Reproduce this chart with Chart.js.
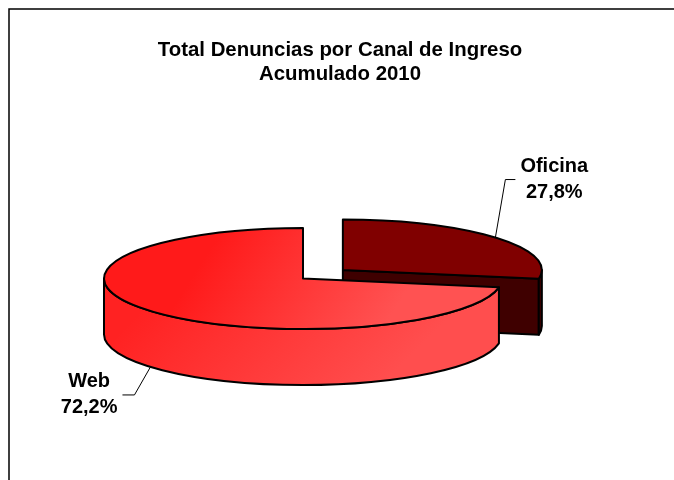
<!DOCTYPE html>
<html>
<head>
<meta charset="utf-8">
<script src="https://cdn.jsdelivr.net/npm/chart.js@4.4.1/dist/chart.umd.min.js"></script>
<style>
  html, body { margin: 0; padding: 0; background: #fff; }
</style>
</head>
<body>
<canvas id="pieChart" width="674" height="480"></canvas>
<script>
var categories = ['Oficina', 'Web'];
var shares = [27.8, 72.2];
var titleLines = ['Total Denuncias por Canal de Ingreso', 'Acumulado 2010'];

var FONT = '"Liberation Sans", Arial, sans-serif';

// colours per slice: top face and side walls (Web uses a red gradient)
var topColors = ['#800000', ['#FF1A1A', '#FF5252']];
var sideColors = ['#3F0000', ['#FF2222', '#FF4E4E']];
// leader line layout per label: elbow offset and horizontal run
var labelLayout = [
    { dx: 10, dy: -58, run: 10 },
    { dx: -16, dy: 28, run: -12 }
];

function fmtPct(v) {
    return v.toFixed(1).replace('.', ',') + '%';
}

function paint(ctx, spec, x0, y0, x1, y1) {
    if (typeof spec === 'string') return spec;
    var g = ctx.createLinearGradient(x0, y0, x1, y1);
    g.addColorStop(0, spec[0]);
    g.addColorStop(1, spec[1]);
    return g;
}

function getSlices(chart, opts) {
    var meta = chart.getDatasetMeta(0);
    return meta.data.map(function (arc, i) {
        var p = arc.getProps(['x', 'y', 'startAngle', 'endAngle', 'outerRadius'], true);
        var mid = (p.startAngle + p.endAngle) / 2;
        var off = arc.options.offset || 0;
        return {
            i: i,
            cx: p.x + opts.shiftX + Math.cos(mid) * off,
            cy: p.y + opts.shiftY + Math.sin(mid) * off * opts.tilt,
            r: p.outerRadius,
            s: p.startAngle,
            e: p.endAngle,
            mid: mid
        };
    });
}

var pie3d = {
    id: 'pie3d',
    beforeDraw: function (chart) {
        var ctx = chart.ctx;
        ctx.save();
        ctx.strokeStyle = '#000';
        ctx.lineWidth = 1.5;
        ctx.strokeRect(9, 9, 700, 500);
        ctx.restore();
    },
    beforeDatasetsDraw: function (chart, args, opts) {
        var ctx = chart.ctx;
        var k = opts.tilt, depth = opts.depth;
        var slices = getSlices(chart, opts).sort(function (a, b) { return a.cy - b.cy; });

        ctx.save();
        ctx.lineWidth = 2;
        ctx.strokeStyle = '#000';
        ctx.lineJoin = 'round';

        // side walls, back to front
        slices.forEach(function (sl) {
            var ry = sl.r * k;
            ctx.fillStyle = paint(ctx, sideColors[sl.i], sl.cx - sl.r * 0.4, sl.cy - ry, sl.cx + sl.r * 0.4, sl.cy + ry + depth);
            // radial cut faces that face the viewer
            [[sl.s, -Math.cos(sl.s)], [sl.e, Math.cos(sl.e)]].forEach(function (f) {
                if (f[1] <= 1e-6) return;
                var ex = sl.cx + Math.cos(f[0]) * sl.r;
                var ey = sl.cy + Math.sin(f[0]) * ry;
                ctx.beginPath();
                ctx.moveTo(sl.cx, sl.cy);
                ctx.lineTo(ex, ey);
                ctx.lineTo(ex, ey + depth);
                ctx.lineTo(sl.cx, sl.cy + depth);
                ctx.closePath();
                ctx.fill();
                ctx.stroke();
            });
            // outer curved wall on the front half
            for (var n = -1; n <= 1; n++) {
                var lo = Math.max(sl.s, 2 * Math.PI * n);
                var hi = Math.min(sl.e, 2 * Math.PI * n + Math.PI);
                if (hi - lo < 1e-6) continue;
                ctx.beginPath();
                ctx.ellipse(sl.cx, sl.cy, sl.r, ry, 0, lo, hi, false);
                ctx.ellipse(sl.cx, sl.cy + depth, sl.r, ry, 0, hi, lo, true);
                ctx.closePath();
                ctx.fill();
                ctx.stroke();
            }
        });

        // top faces
        slices.forEach(function (sl) {
            var ry = sl.r * k;
            ctx.fillStyle = paint(ctx, topColors[sl.i], sl.cx - sl.r * 0.4, sl.cy - ry, sl.cx + sl.r * 0.4, sl.cy + ry);
            ctx.beginPath();
            ctx.moveTo(sl.cx, sl.cy);
            ctx.ellipse(sl.cx, sl.cy, sl.r, ry, 0, sl.s, sl.e, false);
            ctx.closePath();
            ctx.fill();
            ctx.stroke();
        });
        ctx.restore();
        return false;
    },
    afterDraw: function (chart, args, opts) {
        var ctx = chart.ctx;
        var k = opts.tilt, depth = opts.depth;
        var slices = getSlices(chart, opts);
        ctx.save();
        ctx.font = 'bold 20px ' + FONT;
        ctx.textAlign = 'center';
        ctx.textBaseline = 'middle';
        slices.forEach(function (sl) {
            var lay = labelLayout[sl.i];
            var px = sl.cx + Math.cos(sl.mid) * sl.r;
            var py = sl.cy + Math.sin(sl.mid) * sl.r * k;
            if (Math.sin(sl.mid) > 0) py += depth;
            var exx = px + lay.dx, exy = py + lay.dy;
            var qx = exx + lay.run;
            ctx.strokeStyle = '#000';
            ctx.lineWidth = 1;
            ctx.beginPath();
            ctx.moveTo(px, py);
            ctx.lineTo(exx, exy);
            ctx.lineTo(qx, exy);
            ctx.stroke();

            var lines = [categories[sl.i], fmtPct(shares[sl.i])];
            var w = Math.max(ctx.measureText(lines[0]).width, ctx.measureText(lines[1]).width);
            var tx = qx + Math.sign(lay.run) * (5 + w / 2);
            ctx.fillStyle = '#000';
            ctx.fillText(lines[0], tx, exy - 13);
            ctx.fillText(lines[1], tx, exy + 13);
        });
        ctx.restore();
    }
};

var ctxP = document.getElementById('pieChart').getContext('2d');
var myPieChart = new Chart(ctxP, {
    type: 'pie',
    data: {
        labels: categories,
        datasets: [{
            data: shares,
            backgroundColor: ['#800000', '#FF3C3C'],
            borderColor: '#000000',
            borderWidth: 2,
            offset: [52, 0]
        }]
    },
    options: {
        responsive: false,
        animation: false,
        events: [],
        radius: 199,
        layout: { padding: { left: 6, right: 0, top: 0, bottom: 0 } },
        plugins: {
            legend: { display: false },
            tooltip: { enabled: false },
            title: {
                display: true,
                text: titleLines,
                color: '#000',
                font: { family: FONT, size: 20.4, weight: 'bold', lineHeight: 1.2 },
                padding: { top: 38, bottom: 0 }
            },
            pie3d: { tilt: 0.254, depth: 56, shiftX: -37, shiftY: -5 }
        }
    },
    plugins: [pie3d]
});
</script>
</body>
</html>
